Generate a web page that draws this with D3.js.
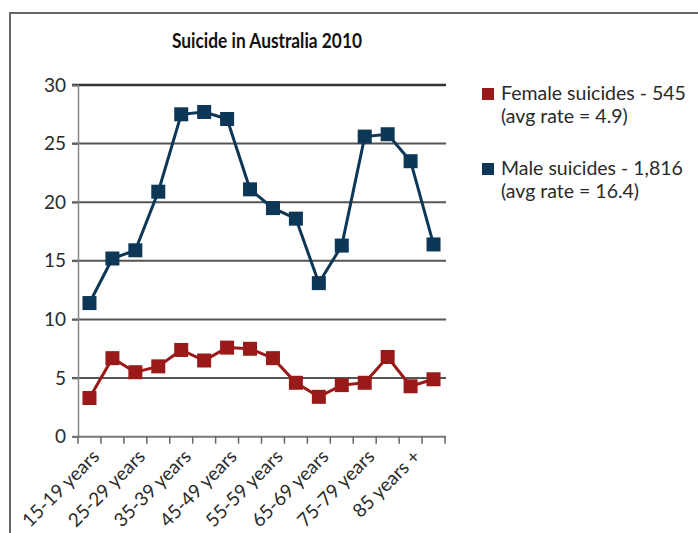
<!DOCTYPE html>
<html><head><meta charset="utf-8">
<script src="https://cdn.jsdelivr.net/npm/d3@7/dist/d3.min.js"></script>
<style>body{margin:0;background:#fff}svg{display:block}</style>
</head><body>
<svg id="c" width="698" height="533"></svg>
<script>
const categories = ["15-19 years","20-24 years","25-29 years","30-34 years","35-39 years","40-44 years","45-49 years","50-54 years","55-59 years","60-64 years","65-69 years","70-74 years","75-79 years","80-84 years","85 years +","All ages"];
const shownLabels = ["15-19 years","25-29 years","35-39 years","45-49 years","55-59 years","65-69 years","75-79 years","85 years +"];
const female = [3.3,6.7,5.5,6.0,7.4,6.5,7.6,7.5,6.7,4.6,3.4,4.4,4.6,6.8,4.3,4.9];
const male = [11.4,15.2,15.9,20.9,27.5,27.7,27.1,21.1,19.5,18.6,13.1,16.3,25.6,25.8,23.5,16.4];
const yTicks = [0,5,10,15,20,25,30];
const legendLines = [
  ["Female suicides - 545","(avg rate = 4.9)"],
  ["Male suicides - 1,816","(avg rate = 16.4)"]
];
const title = "Suicide in Australia 2010";

const FONT = "Lato, 'Open Sans', sans-serif";
const svg = d3.select("#c");
const colF = "#9a1a1a", colM = "#0c3757";

// outer frame
svg.append("rect").attr("x",10).attr("y",13).attr("width",720).attr("height",560)
  .attr("fill","none").attr("stroke","#666").attr("stroke-width",2);

svg.append("text").attr("x",267).attr("y",48).attr("text-anchor","middle")
  .attr("font-family",FONT).attr("font-weight","bold").attr("font-size",21).attr("fill","#111")
  .attr("textLength",190).attr("lengthAdjust","spacingAndGlyphs")
  .text(title);

const x0 = 78, x1 = 445, yTop = 85, yBot = 436.7;
const x = d3.scaleBand().domain(categories).range([x0,x1]);
const y = d3.scaleLinear().domain([0,30]).range([yBot,yTop]);

// gridlines
const g = svg.append("g");
g.selectAll("line.grid").data(yTicks.filter(d=>d>0)).join("line")
  .attr("x1",72).attr("x2",446).attr("y1",d=>y(d)).attr("y2",d=>y(d))
  .attr("stroke",d=>d===30?"#333":"#555").attr("stroke-width",d=>d===30?2.5:2);

// y axis
const ya = svg.append("g").attr("transform",`translate(${x0},0)`)
  .call(d3.axisLeft(y).tickValues(yTicks).tickSize(6).tickPadding(6));
ya.select(".domain").attr("stroke","#888").attr("stroke-width",1.5);
ya.selectAll(".tick line").attr("stroke","#666").attr("stroke-width",1.5);
ya.selectAll(".tick text").attr("font-family",FONT).attr("font-size",19).attr("fill","#2a2a2a");

// x axis
const xa = svg.append("g").attr("transform",`translate(0,${yBot})`);
xa.append("line").attr("x1",72).attr("x2",446).attr("y1",0).attr("y2",0)
  .attr("stroke","#777").attr("stroke-width",2);
const edges = categories.map(c=>x(c)).concat([x1]);
xa.selectAll("line.t").data(edges).join("line").attr("class","t")
  .attr("x1",d=>d).attr("x2",d=>d).attr("y1",0).attr("y2",7)
  .attr("stroke","#666").attr("stroke-width",1.5);
xa.selectAll("text").data(shownLabels).join("text")
  .attr("transform",d=>`translate(${x(d)+x.bandwidth()/2+11},21) rotate(-45)`)
  .attr("text-anchor","end").attr("font-family",FONT).attr("font-size",19).attr("fill","#2a2a2a")
  .text(d=>d);

// series
const line = d3.line().x((d,i)=>x(categories[i])+x.bandwidth()/2).y(d=>y(d));
[[female,colF],[male,colM]].forEach(([data,col])=>{
  svg.append("path").datum(data).attr("d",line).attr("fill","none")
    .attr("stroke",col).attr("stroke-width",3);
  svg.append("g").selectAll("rect").data(data).join("rect")
    .attr("x",(d,i)=>x(categories[i])+x.bandwidth()/2-7).attr("y",d=>y(d)-7)
    .attr("width",14).attr("height",14).attr("fill",col);
});

// legend
const lg = svg.append("g");
[[colF,88],[colM,163]].forEach(([col,yy],i)=>{
  lg.append("rect").attr("x",482).attr("y",yy).attr("width",12).attr("height",12).attr("fill",col);
  legendLines[i].forEach((t,j)=>{
    lg.append("text").attr("x",501).attr("y",yy+12+j*23)
      .attr("font-family",FONT).attr("font-size",19.5).attr("fill","#2a2a2a").text(t);
  });
});
</script>
</body></html>
